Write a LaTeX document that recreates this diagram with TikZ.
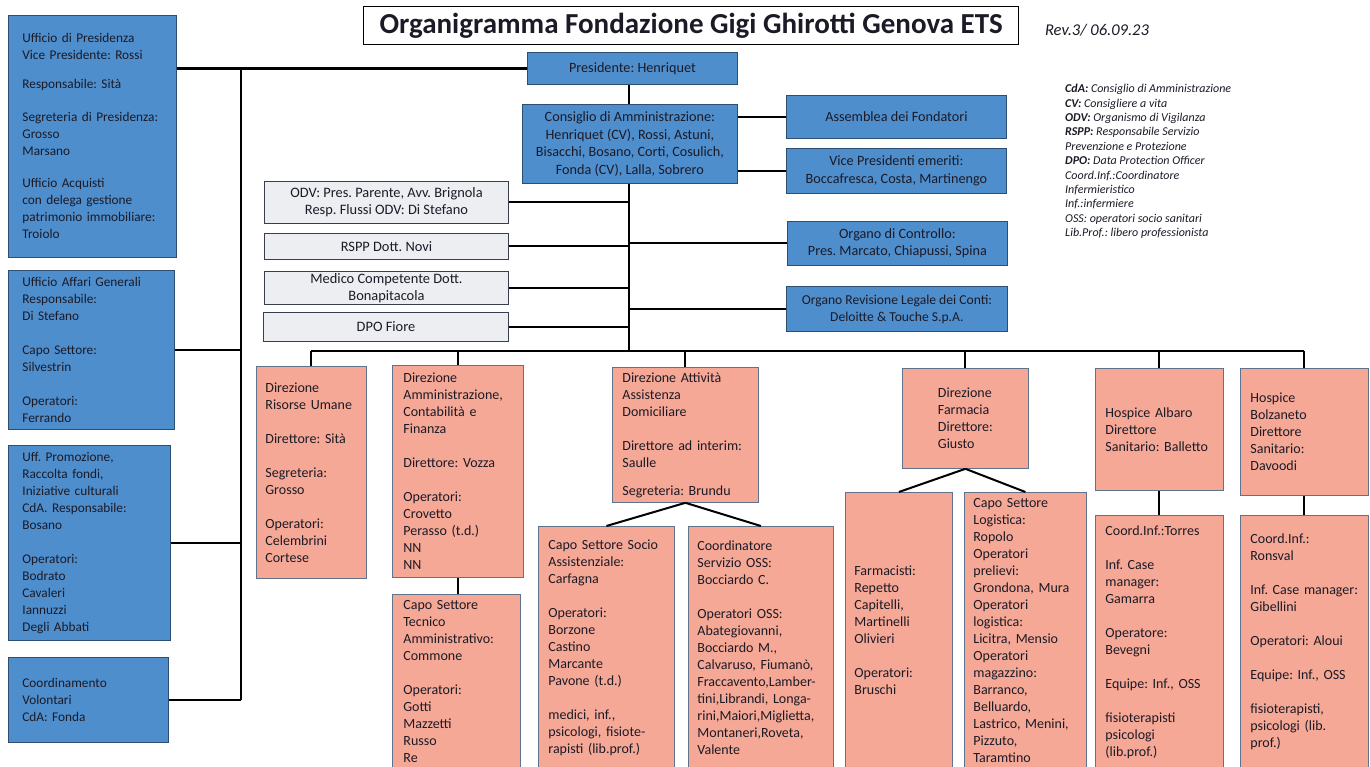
\documentclass[tikz,border=0pt]{standalone}
\usepackage{fontspec}
\setmainfont{Carlito}
\usepackage{xcolor}
\usetikzlibrary{positioning}
\frenchspacing
\hyphenpenalty=10000
\definecolor{boxblue}{RGB}{78,142,205}
\definecolor{boxsalmon}{RGB}{245,168,150}
\definecolor{boxgray}{RGB}{236,238,242}
\definecolor{edgegray}{RGB}{95,115,140}
\definecolor{edgedark}{RGB}{55,62,80}
\definecolor{ink}{RGB}{28,26,38}
\tikzset{
	every node/.append style={text=ink},
	lw/.style = {line width=2pt, draw=black},
	blu/.style = {
			anchor=north west, inner sep=0pt,
			fill=boxblue, draw=boxblue!55!black, line width=0.8pt,
			font=\fontsize{14.2}{17.5}\selectfont,
		},
	bluleft/.style = {
			blu, align=left, inner xsep=14pt,
			font=\fontsize{13.3}{17}\selectfont,
		},
	sal/.style = {
			anchor=north west, inner sep=0pt, align=left,
			fill=boxsalmon, draw=edgegray, line width=0.8pt,
			font=\fontsize{14}{17}\selectfont,
		},
	gry/.style = {
			anchor=north west, inner sep=0pt, align=center,
			fill=boxgray, draw=edgedark, line width=1pt,
			font=\fontsize{14.4}{17}\selectfont,
		},
	titlebox/.style = {
			anchor=north west, draw=black, line width=1.2pt, fill=white,
			font=\fontsize{29}{32}\selectfont\bfseries,
		},
}

\begin{document}
\begin{tikzpicture}[x=1pt, y=-1pt]
	\useasboundingbox (0,0) rectangle (1370,767);
	\fill[white] (0,0) rectangle (1370,767);

	\node[titlebox, minimum width=655pt, minimum height=38pt] (ttl) at (363,6) {Organigramma Fondazione Gigi Ghirotti Genova ETS};
	\node[font=\fontsize{16.5}{18}\selectfont\itshape] (rev) at (1097,30) {Rev.3/ 06.09.23};
	\node[anchor=north west, align=left, inner sep=0pt, font=\fontsize{12}{14.4}\selectfont\itshape] (leg) at (1065,84) {%
		\textbf{CdA:} Consiglio di Amministrazione\\
		\textbf{CV:} Consigliere a vita\\
		\textbf{ODV:} Organismo di Vigilanza\\
		\textbf{RSPP:} Responsabile Servizio\\
		Prevenzione e Protezione\\
		\textbf{DPO:} Data Protection Officer\\
		Coord.Inf.:Coordinatore\\
		Infermieristico\\
		Inf.:infermiere\\
		OSS: operatori socio sanitari\\
		Lib.Prof.: libero professionista};

	% uffici di staff a sinistra
	\node[bluleft, minimum width=168pt, minimum height=242pt, text width=140pt] (upr) at (8,15) {Ufficio di Presidenza\\Vice Presidente: Rossi\\[12pt]Responsabile: Sità\\[16pt]Segreteria di Presidenza:\\Grosso\\Marsano\\[15pt]Ufficio Acquisti\\con delega gestione\\patrimonio immobiliare:\\Troiolo};
	\node[bluleft, minimum width=166pt, minimum height=159pt, text width=138pt] (uag) at (8,270) {Ufficio Affari Generali\\Responsabile:\\Di Stefano\\[17pt]Capo Settore:\\Silvestrin\\[17pt]Operatori:\\Ferrando};
	\node[bluleft, minimum width=162pt, minimum height=195pt, text width=134pt] (upf) at (8,445) {Uff. Promozione,\\Raccolta fondi,\\Iniziative culturali\\CdA. Responsabile:\\Bosano\\[17pt]Operatori:\\Bodrato\\Cavaleri\\Iannuzzi\\Degli Abbati};
	\node[bluleft, minimum width=160pt, minimum height=85pt, text width=132pt] (cvo) at (8,657) {Coordinamento\\Volontari\\CdA: Fonda};

	% vertice
	\node[blu, align=center, minimum width=210pt, minimum height=32pt] (pres) at (527,52) {Presidente: Henriquet};
	\node[blu, align=center, minimum width=215pt, minimum height=79pt] (cda) at (522,104) {Consiglio di Amministrazione:\\Henriquet (CV), Rossi, Astuni,\\Bisacchi, Bosano, Corti, Cosulich,\\Fonda (CV), Lalla, Sobrero};
	\node[blu, align=center, minimum width=220pt, minimum height=43pt] (afo) at (786,95) {Assemblea dei Fondatori};
	\node[blu, align=center, minimum width=220pt, minimum height=45pt] (vpe) at (786,148) {Vice Presidenti emeriti:\\Boccafresca, Costa, Martinengo};
	\node[blu, align=center, minimum width=220pt, minimum height=44pt] (ctl) at (787,221) {Organo di Controllo:\\Pres. Marcato, Chiapussi, Spina};
	\node[blu, align=center, minimum width=221pt, minimum height=45pt, font=\fontsize{13.6}{17}\selectfont] (rlc) at (786,286) {Organo Revisione Legale dei Conti:\\Deloitte \& Touche S.p.A.};

	\node[gry, minimum width=244pt, minimum height=42pt] (odv) at (264,181) {ODV: Pres. Parente, Avv. Brignola\\Resp. Flussi ODV: Di Stefano};
	\node[gry, minimum width=244pt, minimum height=26pt] (rspp) at (264,233) {RSPP Dott. Novi};
	\node[gry, minimum width=244pt, minimum height=33pt] (mcd) at (264,271) {Medico Competente Dott.\\Bonapitacola};
	\node[gry, minimum width=245pt, minimum height=29pt] (dpo) at (263,312) {DPO Fiore};

	% direzioni
	\node[sal, minimum width=110pt, minimum height=212pt, text width=92pt, inner xsep=9pt] (dru) at (256,366) {Direzione\\Risorse Umane\\[17pt]Direttore: Sità\\[17pt]Segreteria:\\Grosso\\[17pt]Operatori:\\Celembrini\\Cortese};
	\node[sal, minimum width=131pt, minimum height=212pt, text width=109pt, inner xsep=11pt] (dac) at (392,365) {Direzione\\Amministrazione,\\Contabilità e\\Finanza\\[17pt]Direttore: Vozza\\[17pt]Operatori:\\Crovetto\\Perasso (t.d.)\\NN\\NN};
	\node[sal, minimum width=128pt, minimum height=174pt, text width=106pt, inner xsep=11pt] (cst) at (392,594) {Capo Settore\\Tecnico\\Amministrativo:\\Commone\\[17pt]Operatori:\\Gotti\\Mazzetti\\Russo\\Re};
	\node[sal, minimum width=146pt, minimum height=135pt, text width=126pt, inner xsep=10pt] (dad) at (612,367) {Direzione Attività\\Assistenza\\Domiciliare\\[17pt]Direttore ad interim:\\Saulle\\[11pt]Segreteria: Brundu};
	\node[sal, minimum width=136pt, minimum height=242pt, text width=116pt, inner xsep=10pt] (csa) at (538,526) {Capo Settore Socio\\Assistenziale:\\Carfagna\\[17pt]Operatori:\\Borzone\\Castino\\Marcante\\Pavone (t.d.)\\[17pt]medici, inf.,\\psicologi, fisiote-\\rapisti (lib.prof.)};
	\node[sal, minimum width=145pt, minimum height=242pt, text width=127pt, inner xsep=9pt] (oss) at (688,526) {Coordinatore\\Servizio OSS:\\Bocciardo C.\\[17pt]Operatori OSS:\\Abategiovanni,\\Bocciardo M.,\\Calvaruso, Fiumanò,\\Fraccavento,Lamber-\\tini,Librandi, Longa-\\rini,Maiori,Miglietta,\\Montaneri,Roveta,\\Valente};
	\node[sal, minimum width=126pt, minimum height=100pt] (dfa) at (902,368) {Direzione\\Farmacia\\Direttore:\\Giusto};
	\node[sal, minimum width=107pt, minimum height=276pt, text width=89pt, inner xsep=9pt] (far) at (845,492) {Farmacisti:\\Repetto\\Capitelli,\\Martinelli\\Olivieri\\[17pt]Operatori:\\Bruschi};
	\node[sal, minimum width=122pt, minimum height=276pt, text width=104pt, inner xsep=9pt] (log) at (964,492) {Capo Settore\\Logistica:\\Ropolo\\Operatori\\prelievi:\\Grondona, Mura\\Operatori\\logistica:\\Licitra, Mensio\\Operatori\\magazzino:\\Barranco,\\Belluardo,\\Lastrico, Menini,\\Pizzuto,\\Taramtino};
	\node[sal, minimum width=128pt, minimum height=122pt, text width=108pt, inner xsep=10pt] (hal) at (1095,368) {Hospice Albaro\\Direttore\\Sanitario: Balletto};
	\node[sal, minimum width=128pt, minimum height=253pt, text width=108pt, inner xsep=10pt] (hals) at (1095,515) {Coord.Inf.:Torres\\[17pt]Inf. Case\\manager:\\Gamarra\\[17pt]Operatore:\\Bevegni\\[17pt]Equipe: Inf., OSS\\[17pt]fisioterapisti\\psicologi\\(lib.prof.)};
	\node[sal, minimum width=128pt, minimum height=127pt, text width=108pt, inner xsep=10pt] (hbo) at (1240,368) {Hospice\\Bolzaneto\\Direttore\\Sanitario:\\Davoodi};
	\node[sal, minimum width=128pt, minimum height=253pt, text width=108pt, inner xsep=10pt] (hbos) at (1240,515) {Coord.Inf.:\\Ronsval\\[17pt]Inf. Case manager:\\Gibellini\\[17pt]Operatori: Aloui\\[17pt]Equipe: Inf., OSS\\[17pt]fisioterapisti,\\psicologi (lib.\\prof.)};

	% collegamenti
	\coordinate (lt) at (241,68);
	\coordinate (lb) at (241,700);
	\coordinate (bc) at (629,351);
	\draw[lw, line width=2.6pt] (upr.east |- pres.west) -- (pres.west);
	\draw[lw] (lt) -- (lb);
	\draw[lw] (uag.east) -- (uag.east -| lt);
	\draw[lw] (upf.east) -- (upf.east -| lt);
	\draw[lw] (cvo.east) -- (cvo.east -| lt);
	\draw[lw] (pres.south -| bc) -- (cda.north -| bc);
	\draw[lw] (cda.south -| bc) -- (bc);
	\draw[lw] (cda.east |- afo.west) -- (afo.west);
	\draw[lw] (cda.east |- vpe.west) -- (vpe.west);
	\draw[lw] (ctl.west -| bc) -- (ctl.west);
	\draw[lw] (rlc.west -| bc) -- (rlc.west);
	\draw[lw] (odv.east) -- (odv.east -| bc);
	\draw[lw] (rspp.east) -- (rspp.east -| bc);
	\draw[lw] (mcd.east) -- (mcd.east -| bc);
	\draw[lw] (dpo.east) -- (dpo.east -| bc);
	\draw[lw, line width=2.6pt] (dru.north |- bc) -- (hbo.north |- bc);
	\foreach \d in {dru,dac,dad,dfa,hal,hbo}
		\draw[lw] (\d.north |- bc) -- (\d.north);
	\draw[lw] (dac.south) -- (dac.south |- cst.north);
	\draw[lw] (dad.south) -- (csa.north);
	\draw[lw] (dad.south) -- (oss.north);
	\draw[lw] (dfa.south) -- (far.north);
	\draw[lw] (dfa.south) -- (log.north);
	\draw[lw] (hal.south) -- (hals.north);
	\draw[lw] (hbo.south) -- (hbos.north);
\end{tikzpicture}
\end{document}
